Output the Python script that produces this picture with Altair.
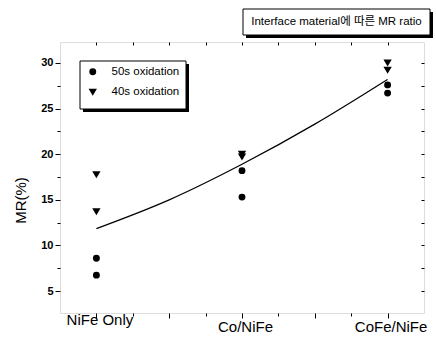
import altair as alt
import pandas as pd

# ---- data ----
categories = ["NiFe Only", "Co/NiFe", "CoFe/NiFe"]
series_names = ["50s oxidation", "40s oxidation"]
ox50_x = [1, 1, 2, 2, 3, 3]
ox50_mr = [8.6, 6.75, 18.2, 15.3, 27.6, 26.7]
ox40_x = [1, 1, 2, 2, 3, 3]
ox40_mr = [17.75, 13.7, 20.0, 19.7, 30.0, 29.2]
fit_x = [1, 1.5, 2, 2.5, 3]
fit_mr = [11.85, 15.0, 18.9, 23.3, 28.2]
y_major = [5, 10, 15, 20, 25, 30]
y_minor_step = 2.5
x_tick_values = [1, 1.25, 1.5, 1.75, 2, 2.25, 2.5, 2.75, 3]
title_text = "Interface material에 따른 MR ratio"

FONT = "Liberation Sans"
CJK_FONT = "Liberation Sans, 'Noto Sans CJK KR'"
TRI_DOWN = "M-1.2,-1L1.2,-1L0,1Z"

pts = pd.DataFrame(
    {
        "x": ox50_x + ox40_x,
        "mr": ox50_mr + ox40_mr,
        "series": [series_names[0]] * len(ox50_x) + [series_names[1]] * len(ox40_x),
    }
)
fit = pd.DataFrame({"x": fit_x, "mr": fit_mr})

x_dom = [0.75, 3.25]
y_dom = [2.6, 32.3]
y_vals = [y_major[0] + i * y_minor_step for i in range(int((y_major[-1] - y_major[0]) / y_minor_step) + 1)]

label_expr = " : ".join(
    f"datum.value == {i + 1} ? '{c}'" for i, c in enumerate(categories)
) + " : ''"

x_bottom = alt.Axis(
    orient="bottom",
    values=x_tick_values,
    labelExpr=label_expr,
    tickSize={"condition": {"test": "datum.value % 0.5 == 0", "value": 5}, "value": 3},
    labelBaseline={"condition": {"test": "datum.value == 1", "value": "middle"}, "value": "top"},
    labelPadding=1,
    labelOffset=3,
    labelFontSize=15,
    labelFont=FONT,
    labelColor="black",
    labelOverlap=False,
    labelFlush=False,
    tickColor="black",
    tickWidth=1,
    domain=False,
    grid=False,
    title=None,
)
y_left = alt.Axis(
    orient="left",
    values=y_vals,
    labelExpr="datum.value % 5 == 0 ? format(datum.value, 'd') : ''",
    tickSize={"condition": {"test": "datum.value % 5 == 0", "value": 5}, "value": 3},
    labelPadding=2,
    labelFontSize=11,
    labelFontWeight="bold",
    labelFont=FONT,
    labelColor="black",
    tickColor="black",
    domain=False,
    grid=False,
    title="MR(%)",
    titleFont=FONT,
    titleFontSize=15,
    titleFontWeight="normal",
    titleColor="black",
    titleAngle=270,
    titleAlign="center",
    titleBaseline="middle",
    titleX=-40,
    titleY=158,
)
x_top = alt.Axis(
    orient="top",
    values=x_tick_values,
    labels=False,
    tickSize=3,
    offset=-3,
    tickColor="black",
    domain=False,
    grid=False,
    title=None,
)
y_right = alt.Axis(
    orient="right",
    values=y_vals,
    labels=False,
    tickSize=3,
    offset=-3,
    tickColor="black",
    domain=False,
    grid=False,
    title=None,
)

one = alt.Data(values=[{"k": 0}])


def box(x0, x1, y0, y1, fill, stroke=None):
    kw = dict(fill=fill)
    if stroke:
        kw.update(stroke=stroke, strokeWidth=1)
    return alt.Chart(one).mark_rect(**kw).encode(
        x=alt.value(x0), x2=alt.value(x1), y=alt.value(y0), y2=alt.value(y1)
    )


legend_shadow = box(23, 129, 22, 70, "black")
legend_box = box(20, 126, 19, 67, "white", "black")
title_shadow = box(186, 373, -30, -4, "black")
title_box = box(183, 370, -33, -7, "white", "black")
title_mark = alt.Chart(one).mark_text(
    text=title_text, font=CJK_FONT, fontSize=11.5, color="black", align="center", baseline="middle"
).encode(x=alt.value(276.5), y=alt.value(-20))

line = alt.Chart(fit).mark_line(color="black", strokeWidth=1.2, interpolate="monotone").encode(
    x=alt.X("x:Q", scale=alt.Scale(domain=x_dom, nice=False, zero=False), axis=x_top),
    y=alt.Y("mr:Q", scale=alt.Scale(domain=y_dom, nice=False, zero=False), axis=y_right),
)

points = alt.Chart(pts).mark_point(filled=True, color="black", opacity=1, size=48).encode(
    x=alt.X("x:Q", scale=alt.Scale(domain=x_dom, nice=False, zero=False), axis=x_bottom),
    y=alt.Y("mr:Q", scale=alt.Scale(domain=y_dom, nice=False, zero=False), axis=y_left),
    shape=alt.Shape(
        "series:N",
        scale=alt.Scale(domain=series_names, range=["circle", TRI_DOWN]),
        legend=alt.Legend(
            orient="none",
            legendX=27,
            legendY=24,
            title=None,
            padding=0,
            labelFont=FONT,
            labelFontSize=11.5,
            labelColor="black",
            labelOffset=13,
            rowPadding=7.5,
            symbolSize=48,
            symbolFillColor="black",
            symbolStrokeColor="black",
            symbolStrokeWidth=0,
        ),
    ),
)

chart = (
    alt.layer(legend_shadow, legend_box, title_shadow, title_box, title_mark, line, points)
    .resolve_axis(x="independent", y="independent")
    .properties(
        width=364,
        height=271,
        autosize=alt.AutoSizeParams(type="none"),
        padding={"left": 60, "top": 42, "right": 12, "bottom": 29},
        background="white",
    )
    .configure_view(stroke="black", strokeWidth=1.5)
    .configure(font=FONT)
)

chart.save("out.html", embed_options={"renderer": "svg", "actions": False})
